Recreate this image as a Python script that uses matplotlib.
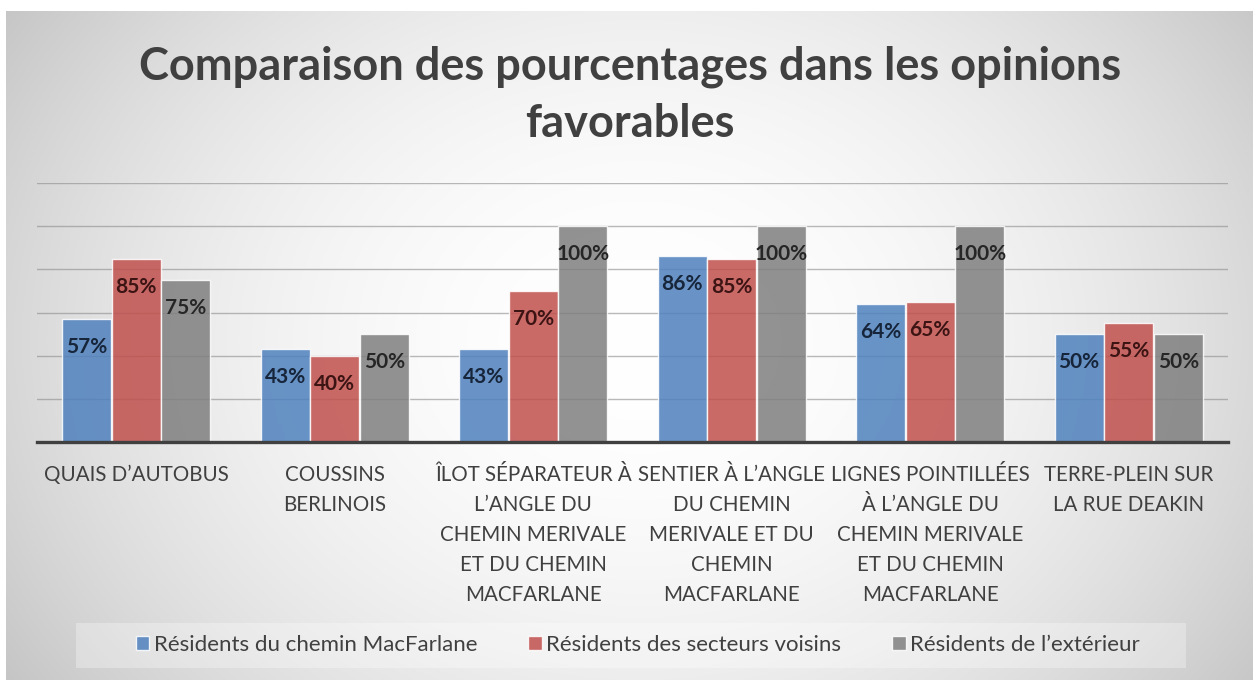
import numpy as np
import matplotlib
matplotlib.use("Agg")
import matplotlib.pyplot as plt
from matplotlib.patches import Rectangle

categories = [
    "QUAIS D\u2019AUTOBUS",
    "COUSSINS\nBERLINOIS",
    "\u00ceLOT S\u00c9PARATEUR \u00c0\nL\u2019ANGLE DU\nCHEMIN MERIVALE\nET DU CHEMIN\nMACFARLANE",
    "SENTIER \u00c0 L\u2019ANGLE\nDU CHEMIN\nMERIVALE ET DU\nCHEMIN\nMACFARLANE",
    "LIGNES POINTILL\u00c9ES\n\u00c0 L\u2019ANGLE DU\nCHEMIN MERIVALE\nET DU CHEMIN\nMACFARLANE",
    "TERRE-PLEIN SUR\nLA RUE DEAKIN",
]
series_names = [
    "R\u00e9sidents du chemin MacFarlane",
    "R\u00e9sidents des secteurs voisins",
    "R\u00e9sidents de l\u2019ext\u00e9rieur",
]
macfarlane = [57, 43, 43, 86, 64, 50]
voisins = [85, 40, 70, 85, 65, 55]
exterieur = [75, 50, 100, 100, 100, 50]
title_lines = ["Comparaison des pourcentages dans les opinions", "favorables"]

series = [macfarlane, voisins, exterieur]
colors = ["#4f81bd", "#c0504d", "#7f7f7f"]
label_colors = ["#17253a", "#3b1413", "#262626"]

plt.rcParams['font.family'] = ['Lato', 'DejaVu Sans']

W, H = 1253, 680
fig = plt.figure(figsize=(W / 100, H / 100), dpi=100)
fig.patch.set_facecolor("white")

# background radial gradient
bg = fig.add_axes([6 / W, 0, 1 - 6 / W, 1 - 11 / H])
bg.set_axis_off()
yy, xx = np.mgrid[0:400, 0:740]
px = xx / 739 * (W - 6) + 6
py = yy / 399 * (H - 11) + 11
cx, cy = 640, 340
d2 = ((px - cx) / 650) ** 2 + ((py - cy) / 520) ** 2
val = np.clip(255 - 42 * d2, 185, 255) / 255.0
img = np.dstack([val, val, val])
bg.imshow(img, aspect="auto", extent=[0, 1, 0, 1], origin="upper", interpolation="bilinear")
bg.set_xlim(0, 1)
bg.set_ylim(0, 1)
bg.set_zorder(0)

ax = fig.add_axes([37 / W, (H - 442) / H, (1228 - 37) / W, (442 - 183) / H])
ax.set_zorder(1)
ax.patch.set_alpha(0)
ax.set_xlim(-0.5, len(categories) - 0.5)
ax.set_ylim(0, 120)
ax.set_yticks([20, 40, 60, 80, 100, 120])
ax.yaxis.grid(True, color="#8c8c8c", linewidth=1.0, alpha=0.6)
ax.set_axisbelow(True)
for s in ["top", "right", "left"]:
    ax.spines[s].set_visible(False)
ax.spines["bottom"].set_color("#404040")
ax.spines["bottom"].set_linewidth(2.4)
ax.spines["bottom"].set_zorder(5)
ax.tick_params(axis="both", length=0, labelleft=False, labelbottom=False)

x = np.arange(len(categories))
width = 0.248
offsets = [-0.25, 0.0, 0.25]
handles = []
for vals, name, col, lcol, off in zip(series, series_names, colors, label_colors, offsets):
    bars = ax.bar(x + off, vals, width, color=col, alpha=0.85, edgecolor=(1, 1, 1, 0.6),
                  linewidth=1.0, label=name, zorder=3)
    handles.append(bars)
    for xi, v in zip(x + off, vals):
        ax.annotate(f"{v}%", (xi, v), xytext=(0, -28), textcoords="offset pixels",
                    ha="center", va="center", fontsize=15, fontweight="bold", color=lcol, zorder=6)

for xi, cat in zip(x, categories):
    ax.annotate(cat, (xi, 0), xycoords=("data", "axes fraction"), xytext=(0, -23),
                textcoords="offset pixels", ha="center", va="top", fontsize=14.8,
                color="#404040", linespacing=1.62)

fig.text(0.503, 1 - 67 / H, title_lines[0], ha="center", va="center",
         fontsize=32.5, fontweight="bold", color="#404040")
fig.text(0.503, 1 - 124 / H, title_lines[1], ha="center", va="center",
         fontsize=32.5, fontweight="bold", color="#404040")

# legend background box
fig.patches.append(Rectangle((76 / W, 1 - 668 / H), (1186 - 76) / W, 45 / H,
                             transform=fig.transFigure, facecolor=(1, 1, 1, 0.3),
                             edgecolor="none", zorder=2))

leg = fig.legend(handles=handles, labels=series_names, loc="center",
                 bbox_to_anchor=(638 / W, 1 - 645 / H), ncol=3, frameon=False,
                 fontsize=16, handlelength=0.6, handleheight=0.6, handletextpad=0.2,
                 columnspacing=2.3, borderpad=0.3)
for t in leg.get_texts():
    t.set_color("#404040")
for h in leg.legend_handles:
    h.set_edgecolor((1, 1, 1, 0.7))

fig.savefig("out.png", dpi=100, facecolor="white")
